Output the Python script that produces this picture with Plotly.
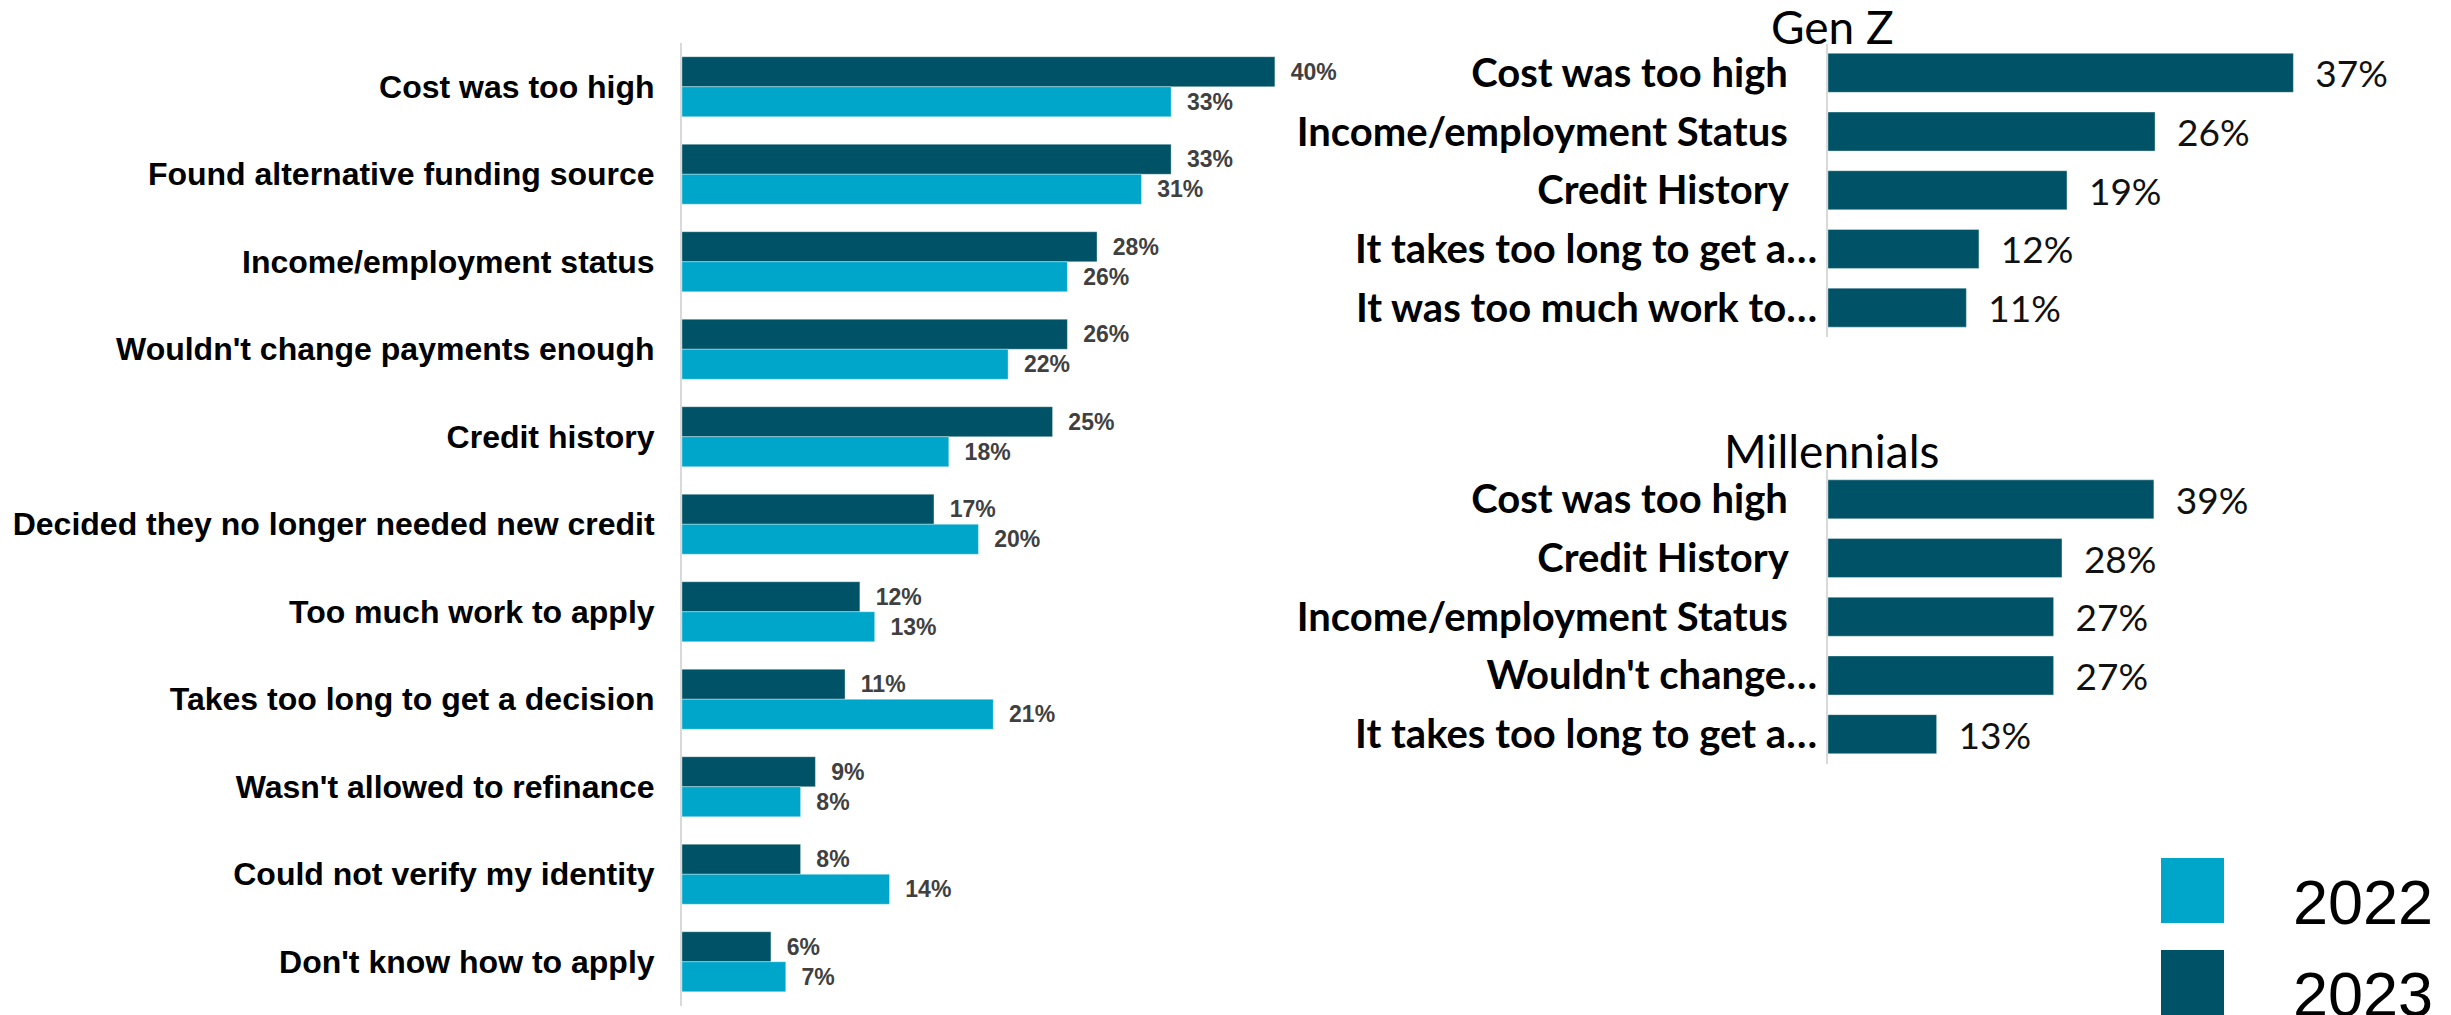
import plotly.graph_objects as go

# ---------------- data ----------------
categories = [
    "Cost was too high",
    "Found alternative funding source",
    "Income/employment status",
    "Wouldn't change payments enough",
    "Credit history",
    "Decided they no longer needed new credit",
    "Too much work to apply",
    "Takes too long to get a decision",
    "Wasn't allowed to refinance",
    "Could not verify my identity",
    "Don't know how to apply",
]
values_2023 = [40, 33, 28, 26, 25, 17, 12, 11, 9, 8, 6]
values_2022 = [33, 31, 26, 22, 18, 20, 13, 21, 8, 14, 7]

genz_title = "Gen Z"
genz_categories = [
    "Cost was too high",
    "Income/employment Status",
    "Credit History",
    "It takes too long to get a…",
    "It was too much work to…",
]
genz_values = [37, 26, 19, 12, 11]

mill_title = "Millennials"
mill_categories = [
    "Cost was too high",
    "Credit History",
    "Income/employment Status",
    "Wouldn't change…",
    "It takes too long to get a…",
]
mill_values = [39, 28, 27, 27, 13]

legend_labels = ["2022", "2023"]

# ---------------- style ----------------
W, H = 2451, 1015
DARK = "#005366"
LIGHT = "#00A6CA"
EDGE = "rgba(255,255,255,0.35)"
AXIS_LINE = "#d9d9d9"
ARIAL = "Liberation Sans, Arial, sans-serif"
CALIBRI = "Lato, Carlito, Calibri, sans-serif"


def px(x):
    return x / W


def py(y):
    return 1 - y / H


NB = "\u00a0"

fig = go.Figure()

# left chart: 2023 first so it sits on top within each group (reversed axis)
fig.add_trace(go.Bar(
    y=categories, x=values_2023, orientation="h", name=legend_labels[1],
    marker=dict(color=DARK, line=dict(color=EDGE, width=1)),
    texttemplate=NB * 2 + "%{x}%", textposition="outside", textangle=0,
    textfont=dict(family=ARIAL, size=23, color="#404040", weight="bold"),
    constraintext="none", cliponaxis=False, showlegend=False,
    xaxis="x", yaxis="y",
))
fig.add_trace(go.Bar(
    y=categories, x=values_2022, orientation="h", name=legend_labels[0],
    marker=dict(color=LIGHT, line=dict(color=EDGE, width=1)),
    texttemplate=NB * 2 + "%{x}%", textposition="outside", textangle=0,
    textfont=dict(family=ARIAL, size=23, color="#404040", weight="bold"),
    constraintext="none", cliponaxis=False, showlegend=False,
    xaxis="x", yaxis="y",
))

# Gen Z
fig.add_trace(go.Bar(
    y=genz_categories, x=genz_values, orientation="h", name=genz_title,
    width=0.664,
    marker=dict(color=DARK, line=dict(color=EDGE, width=1)),
    texttemplate=NB * 2 + "%{x}%", textposition="outside", textangle=0,
    textfont=dict(family=CALIBRI, size=37, color="#111111"),
    constraintext="none", cliponaxis=False, showlegend=False,
    xaxis="x2", yaxis="y2",
))

# Millennials
fig.add_trace(go.Bar(
    y=mill_categories, x=mill_values, orientation="h", name=mill_title,
    width=0.664,
    marker=dict(color=DARK, line=dict(color=EDGE, width=1)),
    texttemplate=NB * 2 + "%{x}%", textposition="outside", textangle=0,
    textfont=dict(family=CALIBRI, size=37, color="#111111"),
    constraintext="none", cliponaxis=False, showlegend=False,
    xaxis="x3", yaxis="y3",
))


def right_ticktext(cats):
    return [c if c.endswith("…") else c + NB * 3 for c in cats]


hidden_x = dict(showgrid=False, zeroline=False, showticklabels=False,
                showline=False, ticks="", fixedrange=True)

RIGHT_TICKFONT = dict(family=CALIBRI, size=40, color="#000000", weight="bold")

fig.update_layout(
    width=W, height=H,
    margin=dict(l=0, r=0, t=0, b=0),
    paper_bgcolor="white", plot_bgcolor="white",
    barmode="group", bargap=0.314, bargroupgap=0,
    showlegend=False,
    xaxis=dict(domain=[px(682), px(1349)], range=[0, 45], anchor="y", **hidden_x),
    yaxis=dict(domain=[py(1005.5), py(43)], anchor="x", autorange="reversed",
               showline=True, linecolor=AXIS_LINE, linewidth=2, ticks="",
               showgrid=False, ticklabelstandoff=19,
               tickfont=dict(family=ARIAL, size=32, color="#000000", weight="bold")),
    xaxis2=dict(domain=[px(1828), px(2394)], range=[0, 45], anchor="y2", **hidden_x),
    yaxis2=dict(domain=[py(337), py(43.5)], anchor="x2", autorange="reversed",
                showline=True, linecolor=AXIS_LINE, linewidth=2, ticks="",
                showgrid=False, ticklabelstandoff=1,
                tickmode="array", tickvals=genz_categories,
                ticktext=right_ticktext(genz_categories),
                tickfont=RIGHT_TICKFONT),
    xaxis3=dict(domain=[px(1828), px(2204)], range=[0, 45], anchor="y3", **hidden_x),
    yaxis3=dict(domain=[py(763.5), py(470)], anchor="x3", autorange="reversed",
                showline=True, linecolor=AXIS_LINE, linewidth=2, ticks="",
                showgrid=False, ticklabelstandoff=1,
                tickmode="array", tickvals=mill_categories,
                ticktext=right_ticktext(mill_categories),
                tickfont=RIGHT_TICKFONT),
)

# subplot titles
fig.add_annotation(text=genz_title, x=px(1832), y=py(27), xref="paper", yref="paper",
                   xanchor="center", yanchor="middle", showarrow=False,
                   font=dict(family=CALIBRI, size=46, color="#000000"))
fig.add_annotation(text=mill_title, x=px(1831), y=py(450), xref="paper", yref="paper",
                   xanchor="center", yanchor="middle", showarrow=False,
                   font=dict(family=CALIBRI, size=46, color="#000000"))

# legend (large swatches)
legend_colors = [LIGHT, DARK]
legend_tops = [858, 950]
for lab, col, top in zip(legend_labels, legend_colors, legend_tops):
    fig.add_shape(type="rect", xref="paper", yref="paper",
                  x0=px(2161), x1=px(2224), y0=py(top + 65), y1=py(top),
                  fillcolor=col, line=dict(width=0))
    fig.add_annotation(text=lab, x=px(2291), y=py(top + 44), xref="paper", yref="paper",
                       xanchor="left", yanchor="middle", showarrow=False,
                       font=dict(family=ARIAL, size=63, color="#000000"))

fig.write_html("out.html")
